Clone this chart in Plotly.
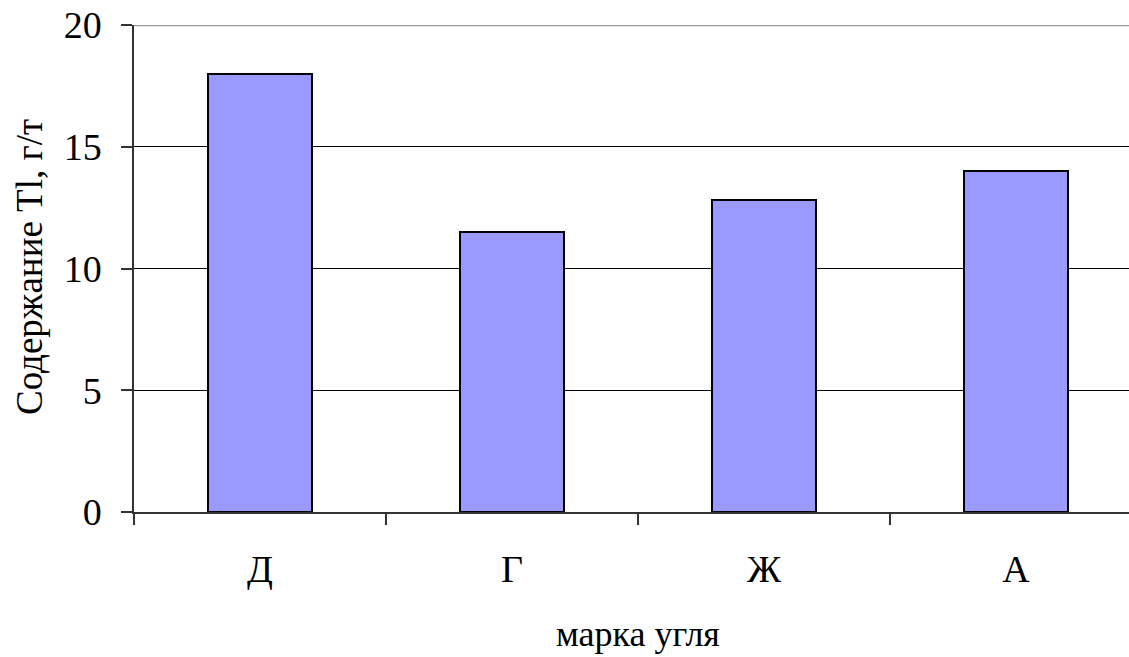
import plotly.graph_objects as go

categories = ["Д", "Г", "Ж", "А"]
values = [18.0, 11.5, 12.8, 14.0]
y_ticks = [0, 5, 10, 15, 20]

FONT = "Liberation Serif, Times New Roman, serif"

fig = go.Figure()
fig.add_trace(go.Bar(
    x=categories, y=values, width=0.41,
    marker=dict(color="#9999FF", line=dict(color="#000000", width=2)),
))

W, H = 1129, 657
L, T, B = 134, 25, 145
plot_w = W - L

fig.update_layout(
    width=W, height=H,
    margin=dict(l=L, r=0, t=T, b=B, pad=0),
    paper_bgcolor="white", plot_bgcolor="white",
    showlegend=False,
    font=dict(family=FONT, color="black", size=38),
    bargap=0,
)
fig.update_xaxes(
    range=[-0.5, -0.5 + plot_w / 252.0],
    showgrid=False, showline=True, linecolor="#333333", linewidth=1.5,
    ticks="outside", tickson="boundaries", ticklen=11, tickcolor="#333333",
    tickwidth=1.5, tickfont=dict(size=38, family=FONT), ticklabelstandoff=23,
    zeroline=False, fixedrange=True,
)
fig.update_yaxes(
    range=[0, 20], tickvals=y_ticks,
    showgrid=True, gridcolor="#000000", gridwidth=1.2,
    showline=True, linecolor="#333333", linewidth=1.5,
    ticks="outside", ticklen=11, tickcolor="#333333", tickwidth=1.5,
    tickfont=dict(size=38, family=FONT), ticklabelstandoff=12,
    zeroline=False, fixedrange=True,
)
# gray top border line at 20
fig.add_shape(type="line", xref="paper", yref="y", x0=0, x1=1, y0=20, y1=20,
              line=dict(color="#999999", width=2.5), layer="above")

fig.add_annotation(text="марка угля", xref="paper", yref="paper",
                   x=(638 - L) / plot_w, y=0, yshift=-122, showarrow=False,
                   xanchor="center", yanchor="middle",
                   font=dict(size=36, family=FONT))
fig.add_annotation(text="Содержание Tl, г/т", xref="paper", yref="paper",
                   x=(29 - L) / plot_w, y=(512 - 267) / (512 - 25), showarrow=False,
                   textangle=-90, xanchor="center", yanchor="middle",
                   font=dict(size=37, family=FONT))

fig.write_html("out.html", config={"displayModeBar": False},
               post_script="document.body.style.margin='0';document.body.style.overflow='hidden';")
